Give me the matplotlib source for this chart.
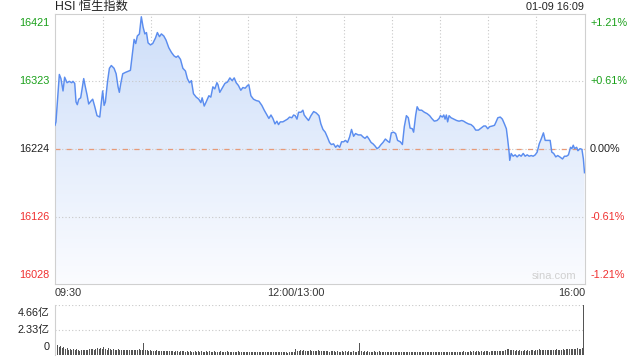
import matplotlib
matplotlib.use("Agg")
import matplotlib.pyplot as plt
import matplotlib.transforms as mtransforms
import numpy as np
from matplotlib.colors import LinearSegmentedColormap

plt.rcParams['font.family'] = ['Liberation Sans', 'Noto Sans CJK SC']

# HSI intraday, minutes after 09:30 (lunch break removed, 330 = 16:00)
minutes = [0, 0.6, 2.7, 3.7, 5, 6, 7.5, 8.9, 10.4, 11.2, 12.3, 13.1, 13.9, 14.8, 16, 17.9, 18.9, 20, 21, 22.3,
           23.5, 24.8, 26.2, 27.9, 28.9, 29.7, 30.6, 31.4, 32.7, 33.9, 35.1, 36.8, 38.1, 39.3, 40.1, 41, 42.2,
           43.9, 46, 47, 48, 49.3, 50.3, 51.3, 52.6, 53.8, 54.9, 56, 57, 58, 59.5, 60.9, 62.6, 63.8, 65.1, 66.3,
           67.8, 69.2, 70.9, 72.6, 74.2, 75.5, 76.7, 78.2, 79.7, 81.3, 82.5, 83.8, 85, 86.3, 88, 89.6, 90.9,
           91.7, 93, 94.2, 95.9, 97.1, 98.4, 99.6, 100.9, 101.6, 102.7, 104.2, 105.9, 107.5, 109, 110.4, 111.7,
           112.9, 114.3, 115.8, 117.1, 118.5, 120, 120.8, 122.1, 123.7, 125.4, 127.1, 128.9, 130.4, 132.1,
           133.3, 134.6, 135.8, 137.1, 138.3, 139.3, 140.4, 142, 143.5, 144.9, 146.2, 147.6, 148.7, 149.7,
           150.8, 151.8, 153.3, 154.5, 155.3, 156.6, 158, 159.5, 161.2, 162.8, 164.5, 165.7, 167, 168.4, 169.9,
           171.1, 172.2, 173.6, 174.9, 176.1, 177.4, 178.6, 179.9, 181.1, 182.3, 183.6, 184.8, 186.1, 187.3,
           189, 190.7, 192, 193.2, 194.5, 195.7, 197, 198.2, 199.4, 200.7, 201.9, 203.2, 204.4, 205.9, 207.3,
           208.5, 209.6, 211, 212.3, 213.5, 215.2, 216.5, 217.7, 219, 220.2, 221.3, 222.7, 223.5, 224.8,
           225.7, 226.9, 228.5, 230.2, 231.9, 233.5, 234.8, 236.4, 238.1, 239.4, 240.2, 241.4, 242.3, 243.1,
           243.9, 244.7, 245.6, 246.8, 248.5, 250.3, 251.8, 253.5, 254.7, 256, 257.7, 259.3, 260.8, 262.2,
           263.9, 265.6, 267.2, 268.4, 269.7, 270.9, 272.6, 273.9, 274.7, 276, 277.5, 278.8, 280.1, 281.3,
           282.1, 283, 283.4, 284.3, 285.5, 286.8, 288, 289.3, 290.5, 291.8, 293, 294.3, 295.5, 296.8, 298,
           299.3, 300.5, 301.8, 303, 304.4, 305.5, 307.1, 308.6, 309.6, 310.8, 312.1, 313.3, 314.6, 316.3,
           317.5, 318.8, 320, 321.3, 322.1, 323, 323.8, 325.1, 325.9, 327.2, 328.4, 329.3, 330]
prices = [16259, 16264, 16333, 16327, 16309, 16329, 16321, 16323, 16321, 16323, 16320, 16293, 16289, 16297,
          16299, 16327, 16315, 16303, 16290, 16294, 16297, 16286, 16273, 16271, 16293, 16309, 16288, 16293,
          16322, 16342, 16346, 16342, 16334, 16315, 16307, 16320, 16334, 16336, 16338, 16339, 16358, 16384,
          16378, 16389, 16392, 16417, 16402, 16392, 16394, 16379, 16376, 16378, 16386, 16394, 16388, 16392,
          16389, 16383, 16372, 16365, 16360, 16358, 16360, 16355, 16342, 16338, 16327, 16321, 16324, 16305,
          16300, 16297, 16292, 16299, 16287, 16293, 16302, 16300, 16315, 16312, 16321, 16318, 16307, 16313,
          16320, 16322, 16328, 16324, 16328, 16321, 16317, 16310, 16314, 16313, 16317, 16318, 16302, 16297,
          16295, 16294, 16288, 16281, 16274, 16269, 16274, 16269, 16261, 16265, 16260, 16264, 16264, 16266,
          16268, 16271, 16270, 16274, 16273, 16268, 16278, 16278, 16281, 16274, 16270, 16266, 16273, 16279,
          16277, 16273, 16261, 16253, 16249, 16241, 16234, 16231, 16232, 16227, 16230, 16227, 16235, 16235,
          16237, 16234, 16242, 16253, 16243, 16247, 16245, 16245, 16242, 16240, 16243, 16239, 16234, 16232,
          16229, 16225, 16227, 16231, 16234, 16239, 16236, 16234, 16248, 16249, 16247, 16237, 16235, 16231,
          16257, 16273, 16270, 16255, 16254, 16249, 16274, 16286, 16281, 16281, 16278, 16276, 16273, 16269,
          16265, 16266, 16269, 16273, 16271, 16274, 16268, 16274, 16264, 16273, 16270, 16268, 16266, 16265,
          16266, 16265, 16263, 16261, 16260, 16257, 16252, 16252, 16255, 16258, 16258, 16254, 16257, 16258,
          16259, 16263, 16270, 16271, 16268, 16261, 16254, 16239, 16220, 16208, 16218, 16214, 16216, 16213,
          16216, 16214, 16218, 16214, 16216, 16214, 16215, 16214, 16216, 16220, 16232, 16239, 16248, 16237,
          16237, 16237, 16220, 16218, 16213, 16215, 16213, 16210, 16214, 16214, 16216, 16227, 16225, 16230,
          16225, 16227, 16222, 16225, 16224, 16210, 16190]

# volume per minute, in 亿
volume = [2.62, 0.95, 0.72, 0.80, 0.62, 0.70, 0.55, 0.66, 0.50, 0.58,
          0.45, 0.52, 0.48, 0.60, 0.44, 0.40, 0.46, 0.42, 0.50, 0.45,
          0.48, 0.55, 0.52, 0.60, 0.50, 0.58, 0.62, 0.55, 0.66, 0.52,
          0.70, 0.58, 0.50, 0.62, 0.55, 0.48, 0.56, 0.50, 0.45, 0.52,
          0.48, 0.44, 0.50, 0.46, 0.42, 0.48, 0.44, 0.50, 0.46, 0.42,
          0.45, 0.48, 0.52, 0.46, 0.50, 1.08, 0.48, 0.44, 0.40, 0.42,
          0.38, 0.40, 0.36, 0.42, 0.38, 0.35, 0.40, 0.37, 0.34, 0.38,
          0.36, 0.33, 0.38, 0.35, 0.32, 0.36, 0.34, 0.30, 0.37, 0.33,
          0.35, 0.31, 0.34, 0.30, 0.36, 0.32, 0.29, 0.35, 0.31, 0.33,
          0.30, 0.34, 0.28, 0.32, 0.36, 0.30, 0.33, 0.29, 0.31, 0.35,
          0.28, 0.32, 0.30, 0.34, 0.27, 0.31, 0.29, 0.33, 0.28, 0.30,
          0.32, 0.27, 0.30, 0.28, 0.33, 0.26, 0.29, 0.31, 0.27, 0.30,
          0.28, 0.32, 0.26, 0.30, 0.27, 0.31, 0.25, 0.29, 0.28, 0.26,
          0.30, 0.27, 0.25, 0.29, 0.26, 0.28, 0.24, 0.27, 0.25, 0.28,
          0.26, 0.24, 0.27, 0.25, 0.28, 0.23, 0.26, 0.24, 0.27, 0.30,
          0.58, 0.40, 0.36, 0.42, 0.38, 0.44, 0.35, 0.40, 0.37, 0.42,
          0.36, 0.40, 0.34, 0.38, 0.42, 0.35, 0.39, 0.33, 0.37, 0.34,
          0.38, 0.32, 0.36, 0.33, 0.37, 0.31, 0.35, 0.32, 0.30, 0.34,
          0.31, 0.35, 0.30, 0.33, 0.29, 0.32, 0.34, 0.30, 0.28, 0.33,
          1.15, 0.36, 0.32, 0.35, 0.30, 0.33, 0.29, 0.32, 0.30, 0.34,
          0.31, 0.28, 0.33, 0.30, 0.27, 0.32, 0.29, 0.31, 0.28, 0.30,
          0.27, 0.31, 0.29, 0.26, 0.30, 0.28, 0.32, 0.27, 0.29, 0.31,
          0.28, 0.26, 0.30, 0.27, 0.25, 0.29, 0.31, 0.26, 0.28, 0.30,
          0.27, 0.29, 0.25, 0.28, 0.30, 0.26, 0.28, 0.25, 0.29, 0.27,
          0.30, 0.26, 0.28, 0.31, 0.27, 0.29, 0.26, 0.30, 0.28, 0.32,
          0.29, 0.27, 0.31, 0.28, 0.30, 0.33, 0.29, 0.32, 0.30, 0.34,
          0.31, 0.35, 0.30, 0.33, 0.36, 0.32, 0.34, 0.31, 0.35, 0.33,
          0.36, 0.32, 0.35, 0.38, 0.34, 0.37, 0.40, 0.35, 0.38, 0.36,
          0.40, 0.45, 0.52, 0.58, 0.48, 0.42, 0.45, 0.40, 0.43, 0.39,
          0.42, 0.38, 0.41, 0.44, 0.40, 0.43, 0.39, 0.42, 0.45, 0.41,
          0.44, 0.48, 0.52, 0.46, 0.50, 0.45, 0.48, 0.44, 0.47, 0.50,
          0.46, 0.49, 0.45, 0.52, 0.48, 0.51, 0.47, 0.54, 0.50, 0.53,
          0.56, 0.52, 0.55, 0.60, 0.54, 0.58, 0.62, 0.56, 0.60, 0.68,
          4.80]

prev_close = 16224
price_ticks = [16421, 16323, 16224, 16126, 16028]
pct_labels = ['+1.21%', '+0.61%', '0.00%', '-0.61%', '-1.21%']
vol_ticks = [4.66, 2.33, 0]
vol_labels = ['4.66亿', '2.33亿', '0']
time_labels = ['09:30', '12:00/13:00', '16:00']

green = '#1aa01a'
red = '#f03030'
grey_txt = '#333333'
grid_c = '#c8c8c8'

fig = plt.figure(figsize=(6.4, 3.6), dpi=100)
ax = fig.add_axes([55 / 640, 1 - 284 / 360, 529.5 / 640, 270 / 360])
ax.set_xlim(0, 330)
ax.set_ylim(price_ticks[-1], price_ticks[0])

# gradient fill under the line
cmap = LinearSegmentedColormap.from_list('bl', ['#fbfcff', '#cddef9'])
grad = np.linspace(0, 1, 256).reshape(-1, 1)
poly = ax.fill_between(minutes, prices, price_ticks[-1], facecolor='none', edgecolor='none')
im = ax.imshow(grad, extent=[0, 330, price_ticks[-1], price_ticks[0]], origin='lower',
               aspect='auto', cmap=cmap, zorder=1)
im.set_clip_path(poly.get_paths()[0], transform=ax.transData)

for t in range(30, 330, 30):
    ax.axvline(t, color=grid_c, lw=0.8, ls=(0, (1, 2)), zorder=0)
for p in price_ticks[1:4]:
    ax.axhline(p, color=grid_c, lw=0.8, ls=(0, (1, 2)), zorder=2)
ax.axhline(prev_close, color='#e89a78', lw=0.9, ls=(0, (4, 5)), zorder=2)

ax.plot(minutes, prices, color='#5b8def', lw=1.05, zorder=3)

for s in ax.spines.values():
    s.set_color('#d0d0d0')
ax.set_xticks([])
ax.set_yticks([])

cols = [green, green, '#222222', red, red]
vas = ['top', 'center', 'center', 'center', 'bottom']
offs = [-3, 0, 0, 0, 3]
for p, lab, c, va, o in zip(price_ticks, pct_labels, cols, vas, offs):
    tl = mtransforms.offset_copy(ax.get_yaxis_transform(), fig=fig, x=-4, y=o, units='points')
    ax.text(0, p, str(p), transform=tl, ha='right', va=va, color=c, fontsize=7.8)
    tr = mtransforms.offset_copy(ax.get_yaxis_transform(), fig=fig, x=4, y=o, units='points')
    ax.text(1, p, lab, transform=tr, ha='left', va=va, color=c, fontsize=7.8)

ax.text(0.985, 0.012, 'sina.com', transform=ax.transAxes, ha='right', va='bottom',
        color='#d0d0d0', fontsize=8)

fig.text(55 / 640, 1 - 7 / 360, 'HSI 恒生指数', ha='left', va='center', fontsize=8.8, color='#222222')
fig.text(584 / 640, 1 - 7 / 360, '01-09 16:09', ha='right', va='center', fontsize=7.8, color='#222222')

fig.text(55 / 640, 1 - 293 / 360, time_labels[0], ha='left', va='center', fontsize=7.8, color=grey_txt)
fig.text(296 / 640, 1 - 293 / 360, time_labels[1], ha='center', va='center', fontsize=7.8, color=grey_txt)
fig.text(585 / 640, 1 - 293 / 360, time_labels[2], ha='right', va='center', fontsize=7.8, color=grey_txt)

# volume panel
vx = fig.add_axes([55 / 640, 1 - 355 / 360, 529.5 / 640, 50 / 360])
vx.set_xlim(-0.6, 330.4)
vx.set_ylim(0, vol_ticks[0])
vx.bar(np.arange(len(volume)), volume, width=0.6, color='#555555', zorder=2)
for v in vol_ticks[:2]:
    vx.axhline(v, color=grid_c, lw=0.8, ls=(0, (1, 2)), zorder=0)
for k in ['top', 'right', 'bottom']:
    vx.spines[k].set_visible(False)
vx.spines['left'].set_color('#d0d0d0')
vx.set_xticks([])
vx.set_yticks([])
vvas = ['top', 'center', 'bottom']
voffs = [-2, 0, 2]
for v, lab, va, o in zip(vol_ticks, vol_labels, vvas, voffs):
    tl = mtransforms.offset_copy(vx.get_yaxis_transform(), fig=fig, x=-4, y=o, units='points')
    vx.text(0, v, lab, transform=tl, ha='right', va=va, color='#222222', fontsize=7.8)

fig.savefig('out.png', dpi=100)
